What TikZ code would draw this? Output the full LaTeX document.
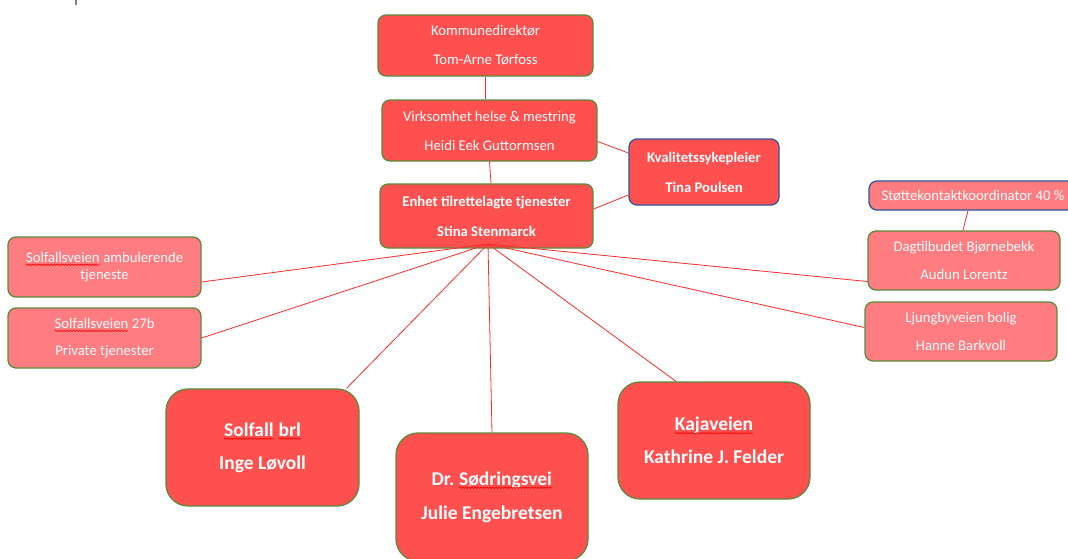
\documentclass[tikz,border=0pt]{standalone}
\usepackage{fontspec}
\setmainfont{Carlito}
\usetikzlibrary{decorations.pathmorphing}
\definecolor{boxred}{HTML}{FF5050}
\definecolor{boxpink}{HTML}{FF7C80}
\definecolor{rimgreen}{HTML}{5B8A3C}
\definecolor{rimblue}{HTML}{2F5597}
\definecolor{linkred}{HTML}{FF2A2A}

% red wavy spell-check mark under a word
\newcommand{\spellchk}[1]{\tikz[baseline=(w.base),sharp corners]{%
    \node[rectangle,inner sep=0pt,outer sep=0pt,minimum size=0pt,draw=none,fill=none,text=white] (w) {#1};
    \draw[red,line width=0.6pt,decorate,decoration={snake,amplitude=0.7pt,segment length=3pt}]
      ([yshift=-2.5pt]w.base west) -- ([yshift=-2.5pt]w.base east);}}

\begin{document}
\begin{tikzpicture}[x=1pt,y=-1pt,
    unit/.style={rectangle,rounded corners=8pt,draw=rimgreen,line width=1.3pt,fill=boxred,
        text=white,align=center,inner sep=0pt,font={\fontsize{14.7}{29}\selectfont}},
    lead/.style={unit,font={\fontsize{14.7}{30}\selectfont\bfseries}},
    staff/.style={lead,draw=rimblue},
    sub/.style={unit,fill=boxpink},
    house/.style={unit,rounded corners=22pt,font={\fontsize{19.5}{33}\selectfont\bfseries}},
    link/.style={draw=linkred,line width=0.8pt}]
    \useasboundingbox (0,0) rectangle (1068,558);
    \draw[gray,line width=1.5pt] (76,0) -- (76,5);

    % top of the chart
    \node[unit,minimum width=215pt,minimum height=61pt] (kommune) at (485.5,45.5)
        {Kommunedirektør\\Tom-Arne Tørfoss};
    \node[unit,minimum width=215pt,minimum height=61pt] (virk) at (489.5,130.5)
        {Virksomhet helse \& mestring\\Heidi Eek Guttormsen};
    \node[staff,minimum width=150pt,minimum height=66pt] (kval) at (704,172)
        {Kvalitetssykepleier\\Tina Poulsen};
    \node[lead,minimum width=213pt,minimum height=64pt] (enhet) at (486.5,216)
        {Enhet tilrettelagte tjenester\\Stina Stenmarck};
    \coordinate (hub) at (488,244);

    % right side
    \node[sub,draw=rimblue,minimum width=208pt,minimum height=29pt] (stotte) at (973,195.5)
        {Støttekontaktkoordinator 40 \%};
    \node[sub,minimum width=192pt,minimum height=59pt,font={\fontsize{14.7}{28}\selectfont}] (dag) at (964,260.5)
        {Dagtilbudet Bjørnebekk\\Audun Lorentz};
    \node[sub,minimum width=192pt,minimum height=59pt,font={\fontsize{14.7}{28}\selectfont}] (ljung) at (961,331.5)
        {Ljungbyveien bolig\\Hanne Barkvoll};

    % left side
    \node[sub,minimum width=193pt,minimum height=60pt,font={\fontsize{14.7}{17}\selectfont}] (amb) at (104.5,267)
        {\spellchk{Solfallsveien} ambulerende\\tjeneste};
    \node[sub,minimum width=193pt,minimum height=60pt,font={\fontsize{14.7}{27}\selectfont}] (sb27) at (104.5,338)
        {\spellchk{Solfallsveien} 27b\\Private tjenester};

    % bottom row
    \node[house,minimum width=193pt,minimum height=117pt] (solfall) at (262.5,447.5)
        {\spellchk{Solfall} \spellchk{brl}\\Inge Løvoll};
    \node[house,minimum width=192pt,minimum height=128pt,font={\fontsize{19.5}{34}\selectfont\bfseries}] (sodr) at (492,497)
        {Dr.\ \spellchk{Sødringsvei}\\Julie Engebretsen};
    \node[house,minimum width=192pt,minimum height=117pt] (kaja) at (714,440.5)
        {\spellchk{Kajaveien}\\Kathrine J. Felder};

    % connectors
    \draw[link] (kommune.south) -- (kommune.south |- virk.north);
    \draw[link] (virk.south) -- ([xshift=4.5pt]enhet.north);
    \draw[link] ([yshift=-11pt]virk.east) -- ([yshift=19pt]kval.west);
    \draw[link] ([yshift=7pt]enhet.east) -- ([yshift=-23pt]kval.west);
    \draw[link] ([xshift=-5pt]stotte.south) -- ([xshift=-1pt]dag.north);
    \draw[link] (hub) -- ([yshift=-15pt]amb.east);
    \draw[link] (hub) -- (sb27.east);
    \draw[link] (hub) -- ([xshift=84pt]solfall.north);
    \draw[link] (hub) -- (sodr.north);
    \draw[link] (hub) -- ([xshift=-38pt]kaja.north);
    \draw[link] (hub) -- ([yshift=4pt]ljung.west);
    \draw[link] (hub) -- ([yshift=-21pt]dag.west);
\end{tikzpicture}
\end{document}
